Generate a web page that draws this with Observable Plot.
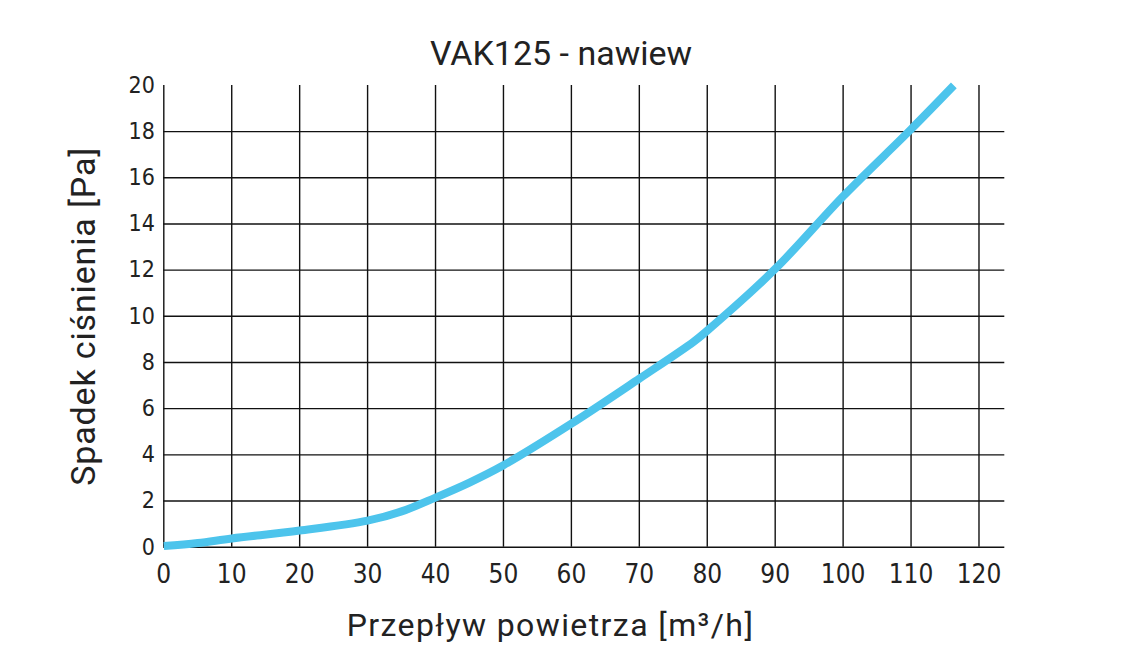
<!DOCTYPE html>
<html>
<head>
<meta charset="utf-8">
<script src="https://cdn.jsdelivr.net/npm/d3@7"></script>
<script src="https://cdn.jsdelivr.net/npm/@observablehq/plot@0.6"></script>
<style>
  html, body { margin: 0; padding: 0; background: #fff; }
  svg { display: block; }
</style>
</head>
<body>
<div id="chart"></div>
<script>
// Data
const flow = [0, 5, 10, 20, 30, 35, 40, 45, 50, 60, 70, 78, 80, 90, 100, 110, 116.3];
const pressure = [0.05, 0.18, 0.38, 0.72, 1.15, 1.55, 2.15, 2.8, 3.55, 5.35, 7.3, 8.9, 9.38, 12.05, 15.2, 18.1, 20];
const xTicks = [0, 10, 20, 30, 40, 50, 60, 70, 80, 90, 100, 110, 120];
const yTicks = [0, 2, 4, 6, 8, 10, 12, 14, 16, 18, 20];
const yGrid = [0, 2, 4, 6, 8, 10, 12, 14, 16, 18];
const title = "VAK125 - nawiew";
const xLabel = "Przepływ powietrza [m³/h]";
const yLabel = "Spadek ciśnienia [Pa]";
const xMax = 123.8;

const data = flow.map((x, i) => ({x, y: pressure[i]}));

const textColor = "#222";
const tickFont = "'Liberation Sans Narrow', 'DejaVu Sans Condensed', sans-serif";
const labelFont = "Roboto, 'Noto Sans', sans-serif";

const chart = Plot.plot({
  width: 1142,
  height: 667,
  marginLeft: 163.3,
  marginRight: 137.7,
  marginTop: 84.9,
  marginBottom: 120.3,
  style: {background: "#fff", color: textColor},
  x: {domain: [0, xMax]},
  y: {domain: [0, 20]},
  marks: [
    Plot.ruleX(xTicks, {x: d => d, y1: 0, y2: 20, stroke: "#111", strokeWidth: 1.4}),
    Plot.ruleY(yGrid, {y: d => d, x1: 0, x2: xMax, stroke: "#111", strokeWidth: 1.4}),
    Plot.line(data, {x: "x", y: "y", curve: "catmull-rom", stroke: "#4dc4ec", strokeWidth: 8, strokeLinecap: "butt"}),
    Plot.axisX(xTicks, {tickSize: 0, tickPadding: 17, fontSize: 26, fontFamily: tickFont, fill: textColor, label: null}),
    Plot.axisY(yTicks, {tickSize: 0, tickPadding: 9, fontSize: 23, fontFamily: tickFont, fill: textColor, label: null}),
    Plot.text([title], {frameAnchor: "top", textAnchor: "middle", lineAnchor: "middle", dx: -23.3, dy: -30.8, fontSize: 34, fontFamily: labelFont, fill: textColor}),
    Plot.text([xLabel], {frameAnchor: "bottom", textAnchor: "middle", lineAnchor: "middle", dx: -33.8, dy: 78.8, fontSize: 32, fontFamily: labelFont, fill: textColor}),
    Plot.text([yLabel], {frameAnchor: "left", textAnchor: "middle", lineAnchor: "middle", dx: -79.2, dy: 0, rotate: -90, fontSize: 34, fontFamily: labelFont, fill: textColor})
  ]
});
d3.select(chart).selectAll("text")
  .filter(function() { return this.textContent === xLabel; })
  .attr("letter-spacing", "1.4px");
d3.select(chart).selectAll("text")
  .filter(function() { return this.textContent === yLabel; })
  .attr("letter-spacing", "0.85px");
document.getElementById("chart").appendChild(chart);
</script>
</body>
</html>
